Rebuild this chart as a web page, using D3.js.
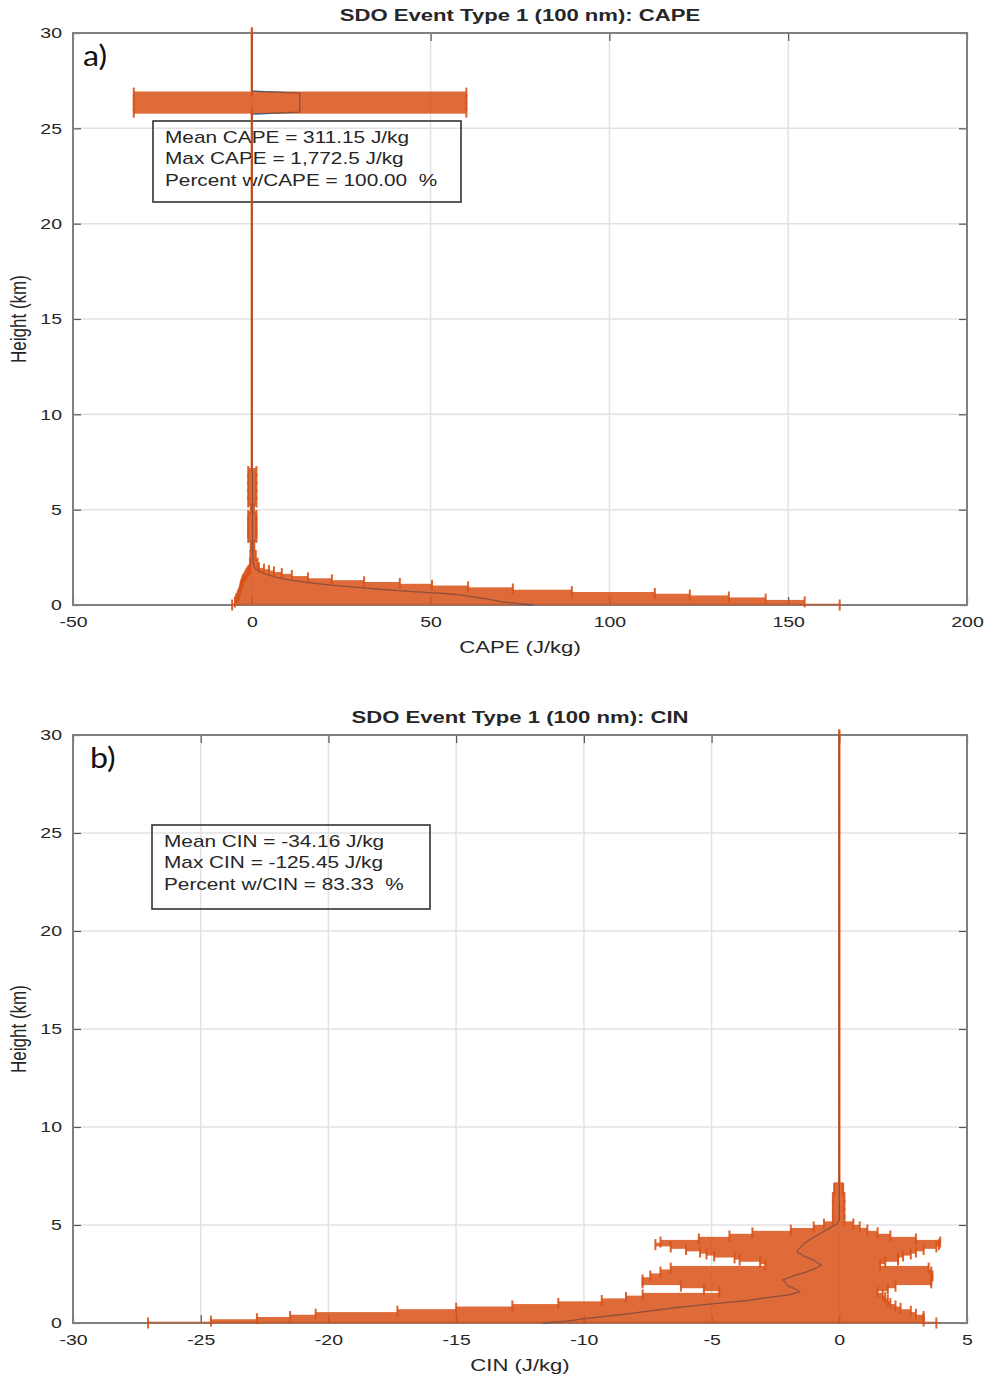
<!DOCTYPE html>
<html><head><meta charset="utf-8">
<script src="https://cdn.jsdelivr.net/npm/d3@7"></script>
<style>body{margin:0;background:#fff}svg{display:block}text{white-space:pre}</style>
</head><body>
<svg id="chart" width="989" height="1384"></svg>
<script>
// ---------------- DATA ----------------
const heightTicks = [0, 5, 10, 15, 20, 25, 30];
const capeTicks = [-50, 0, 50, 100, 150, 200];
const cinTicks = [-30, -25, -20, -15, -10, -5, 0, 5];

// CAPE profile (height km, mean, lower end, upper end) in J/kg
const capeHeights = [0,0.16,0.31,0.42,0.52,0.6,0.7,0.84,0.95,1.03,
  1.13,1.22,1.32,1.42,1.55,1.65,1.74,1.81,1.88,1.95,
  2.2,2.6,3.1,3.55,3.8,4.1,4.4,4.7,5.05,5.4,
  5.8,6.2,6.6,7.0,7.3,9,11,13,15,17,
  19,21,23,25,25.75,25.85,26.2,26.5,26.85,26.95,
  28.5,30];
const capeMean = [78.6,70.2,66,62,58.5,54,45,35,28,23,
  18,14,10.5,7.5,5,3.5,2.5,1.8,1.2,0.8,
  0.4,0.3,0.2,0.2,0.2,0.2,0.2,0.2,0.1,0.2,
  0.2,0.2,0.2,0.2,0,0,0,0,0,0,
  0,0,0,0,0,13.4,13.4,13.4,13.4,0,
  0,0];
const capeLower = [-5.5,-4.7,-4.4,-4.0,-3.8,-3.6,-3.4,-3.2,-3.1,-3.0,
  -2.8,-2.6,-2.5,-2.2,-1.8,-1.5,-1.2,-0.9,-0.6,-0.5,
  -0.5,-0.4,-0.3,-1.0,-1.0,-1.0,-1.0,-1.0,-0.3,-1.0,
  -1.0,-1.0,-1.0,-1.0,0,0,0,0,0,0,
  0,0,0,0,0,-33,-33,-33,-33,0,
  0,0];
const capeUpper = [164.4,154.6,143.7,133.4,122.5,112.7,89.5,73.0,60.5,50.4,
  41.4,31.4,22.4,15.7,11.2,8.4,6.2,4.8,3.4,2.0,
  1.6,1.1,0.7,1.3,1.3,1.3,1.3,1.3,0.6,1.3,
  1.3,1.3,1.3,1.3,0,0,0,0,0,0,
  0,0,0,0,0,60,60,60,60,0,
  0,0];

// CIN profile
const cinHeights = [0,0.1,0.22,0.33,0.45,0.6,0.75,0.87,1.0,1.15,
  1.3,1.43,1.58,1.73,1.88,2.05,2.2,2.4,2.6,2.8,
  2.96,3.1,3.21,3.32,3.42,3.52,3.62,3.75,3.88,4.0,
  4.13,4.29,4.44,4.6,4.74,4.9,5.05,5.26,5.6,6.0,
  6.4,6.8,7.5,10,12.5,15,17.5,20,22.5,25,
  27.5,30];
const cinMean = [-11.6,-10.6,-10.0,-9.2,-8.4,-7.5,-6.6,-5.8,-4.8,-3.6,
  -2.8,-2.0,-1.55,-1.7,-2.0,-2.1,-2.2,-1.8,-1.3,-0.9,
  -0.7,-0.9,-1.0,-1.2,-1.4,-1.5,-1.66,-1.6,-1.5,-1.42,
  -1.3,-1.1,-0.9,-0.7,-0.5,-0.3,-0.1,0,0,0,
  0,0,0,0,0,0,0,0,0,0,
  0,0];
const cinLower = [-27.06,-24.6,-22.8,-21.5,-20.5,-17.3,-15.0,-12.8,-11.0,-9.3,
  -8.35,-7.7,-4.7,-5.3,-6.2,-7.7,-7.7,-7.4,-7.0,-6.6,
  -2.9,-3.1,-3.9,-4.1,-4.9,-5.2,-5.45,-6.0,-6.6,-7.2,
  -7.0,-5.5,-4.3,-3.4,-1.9,-1.0,-0.6,-0.25,-0.25,-0.25,
  -0.25,-0.2,0,0,0,0,0,0,0,0,
  0,0];
const cinUpper = [3.8,3.3,3.3,3.3,3.0,2.8,2.4,2.2,2.0,1.9,
  1.8,1.7,1.5,1.9,2.2,3.6,3.6,3.65,3.6,3.5,
  1.6,1.8,2.3,2.3,2.5,2.8,3.0,3.3,3.8,3.9,
  3.95,3.0,2.0,1.5,1.1,0.8,0.55,0.2,0.2,0.2,
  0.2,0.15,0,0,0,0,0,0,0,0,
  0,0];

const capeStats = ["Mean CAPE = 311.15 J/kg", "Max CAPE = 1,772.5 J/kg", "Percent w/CAPE = 100.00  %"];
const cinStats = ["Mean CIN = -34.16 J/kg", "Max CIN = -125.45 J/kg", "Percent w/CIN = 83.33  %"];

// ---------------- DRAWING ----------------
const svg = d3.select("#chart");
const FONT = "'Liberation Sans', Arial, Helvetica, sans-serif";
const SX = 1.3;
const ORANGE = "#D95319";
const TXT = "#262626";

function label(g, x, y, txt, o = {}) {
  const rot = o.rotate ? ` rotate(${o.rotate})` : "";
  return g.append("text")
    .attr("transform", `translate(${x},${y}) scale(${o.sx || SX},1)${rot}`)
    .attr("text-anchor", o.anchor || "start")
    .attr("font-family", o.family || FONT)
    .attr("font-size", o.size || 15)
    .attr("font-weight", o.weight || "normal")
    .attr("fill", o.fill || TXT)
    .text(txt);
}

function panel(cfg) {
  const g = svg.append("g");
  const { L, R, T, B } = cfg;
  const x = d3.scaleLinear().domain(cfg.xDomain).range([L, R]);
  const y = d3.scaleLinear().domain([0, 30]).range([B, T]);
  const fmt = d => String(d);

  // grid
  g.append("g").selectAll("line").data(cfg.xTicks.slice(1, -1)).join("line")
    .attr("x1", d => x(d)).attr("x2", d => x(d)).attr("y1", T).attr("y2", B)
    .attr("stroke", "#e2e2e2").attr("stroke-width", 1.5);
  g.append("g").selectAll("line").data(heightTicks.slice(1, -1)).join("line")
    .attr("x1", L).attr("x2", R).attr("y1", d => y(d)).attr("y2", d => y(d))
    .attr("stroke", "#e2e2e2").attr("stroke-width", 1.5);

  // axes
  const ax = [
    [d3.axisBottom(x).tickValues(cfg.xTicks).tickSize(-8).tickPadding(11).tickFormat(fmt), `translate(0,${B})`],
    [d3.axisTop(x).tickValues(cfg.xTicks).tickSize(-8).tickFormat(""), `translate(0,${T})`],
    [d3.axisLeft(y).tickValues(heightTicks).tickSize(-8).tickPadding(8.5).tickFormat(fmt), `translate(${L},0)`],
    [d3.axisRight(y).tickValues(heightTicks).tickSize(-8).tickFormat(""), `translate(${R},0)`]
  ];
  ax.forEach(([a, tr]) => {
    const ag = g.append("g").attr("transform", tr).call(a);
    ag.select(".domain").remove();
    ag.selectAll(".tick line").attr("stroke", "#555").attr("stroke-width", 1.2);
    ag.selectAll("text").attr("font-family", FONT).attr("font-size", 15).attr("fill", TXT)
      .attr("transform", `scale(${SX},1)`);
  });
  g.append("rect").attr("x", L).attr("y", T).attr("width", R - L).attr("height", B - T)
    .attr("fill", "none").attr("stroke", "#808080").attr("stroke-width", 2);

  // titles & labels
  label(g, (L + R) / 2, T - 12, cfg.title, { anchor: "middle", weight: "bold", size: 17 });
  label(g, (L + R) / 2, B + 48, cfg.xlabel, { anchor: "middle", size: 17 });
  label(g, 26, (T + B) / 2, "Height (km)", { anchor: "middle", size: 17, rotate: -90 });
  label(g, cfg.tagX, T + 33, cfg.tag, { family: "Lato, 'Open Sans', sans-serif", size: 28, sx: 1.15, fill: "#111" });

  // stats box (drawn under data)
  const bx = cfg.box;
  g.append("rect").attr("x", bx[0]).attr("y", bx[1]).attr("width", bx[2]).attr("height", bx[3])
    .attr("fill", "none").attr("stroke", "#333").attr("stroke-width", 1.6);
  cfg.stats.forEach((s, i) => label(g, bx[0] + 12, bx[1] + 21.5 + i * 21.7, s, { size: 16 }));

  // data
  const H = cfg.heights, M = cfg.mean, LO = cfg.lower, HI = cfg.upper;
  const n = H.length;
  const line = d3.line().x(d => x(M[d])).y(d => y(H[d]));
  const idx = d3.range(n);
  g.append("path").attr("d", line(idx)).attr("fill", "none")
    .attr("stroke", "#0072BD").attr("stroke-width", 1.4);

  const bands = idx.map(i => {
    const yi = y(H[i]);
    const top = i < n - 1 ? (yi + y(H[i + 1])) / 2 : yi - 1;
    const bot = i > 0 ? (yi + y(H[i - 1])) / 2 : yi + 1.2;
    return { i, yi, top: i === 0 ? yi - 1.2 : top, bot };
  });
  const dg = g.append("g").attr("opacity", 0.86);
  dg.selectAll("rect").data(bands.filter(b => HI[b.i] > LO[b.i] && H[b.i] > 0)).join("rect")
    .attr("x", b => x(LO[b.i])).attr("width", b => x(HI[b.i]) - x(LO[b.i]))
    .attr("y", b => b.top - 0.6).attr("height", b => b.bot - b.top + 1.2)
    .attr("fill", ORANGE);
  // surface level (half-hidden by the axis)
  bands.filter(b => H[b.i] === 0).forEach(b => {
    g.append("line").attr("x1", x(LO[b.i])).attr("x2", x(HI[b.i]))
      .attr("y1", b.yi - 0.5).attr("y2", b.yi - 0.5)
      .attr("stroke", ORANGE).attr("stroke-width", 2.2).attr("opacity", 0.55);
  });
  const caps = [];
  bands.forEach(b => {
    const y1 = Math.min(b.top, b.yi - 5.5), y2 = Math.max(b.bot, b.yi + 5.5);
    caps.push({ x: x(LO[b.i]), y1, y2 });
    caps.push({ x: x(HI[b.i]), y1, y2 });
  });
  g.append("g").selectAll("line").data(caps).join("line")
    .attr("x1", d => d.x).attr("x2", d => d.x).attr("y1", d => d.y1).attr("y2", d => d.y2)
    .attr("stroke", ORANGE).attr("stroke-width", 2).attr("opacity", 0.9);

  g.append("path").attr("d", line(idx)).attr("fill", "none")
    .attr("stroke", "#4a4a5a").attr("stroke-width", 1).attr("opacity", 0.45);
}

panel({
  L: 73, R: 967, T: 33, B: 605,
  xDomain: [-50, 200], xTicks: capeTicks,
  title: "SDO Event Type 1 (100 nm): CAPE", xlabel: "CAPE (J/kg)",
  tag: "a)", tagX: 83,
  box: [153, 121, 308, 81], stats: capeStats,
  heights: capeHeights, mean: capeMean, lower: capeLower, upper: capeUpper
});
panel({
  L: 73, R: 967, T: 735, B: 1323,
  xDomain: [-30, 5], xTicks: cinTicks,
  title: "SDO Event Type 1 (100 nm): CIN", xlabel: "CIN (J/kg)",
  tag: "b)", tagX: 90,
  box: [152, 825, 278, 84], stats: cinStats,
  heights: cinHeights, mean: cinMean, lower: cinLower, upper: cinUpper
});
</script>
</body></html>
